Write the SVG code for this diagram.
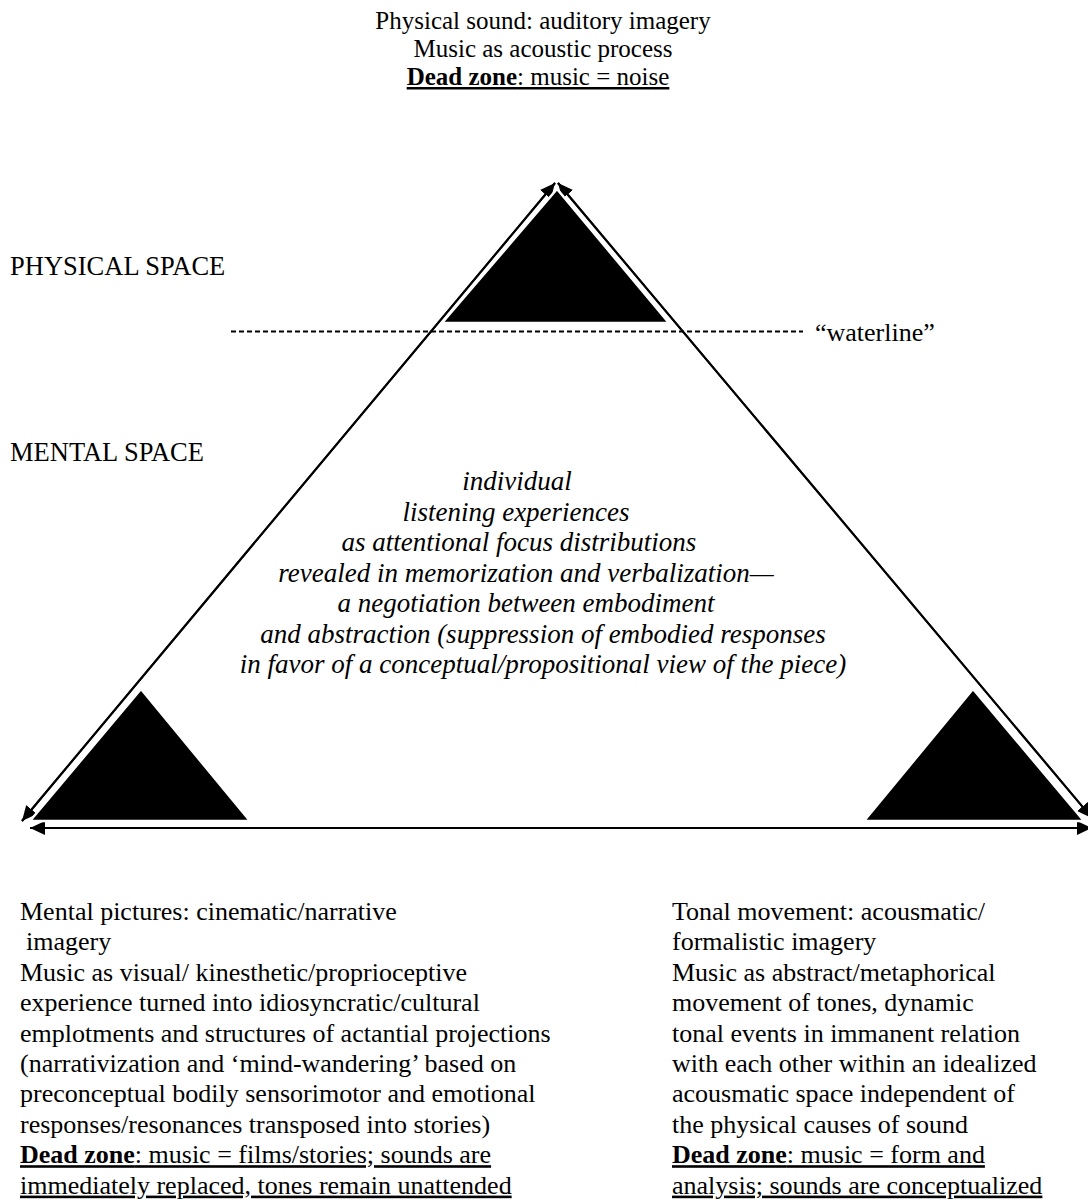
<svg xmlns="http://www.w3.org/2000/svg" width="1088" height="1203" viewBox="0 0 1088 1203">
<style>
text{font-family:"Liberation Serif","Times New Roman",serif;font-size:26px;fill:#000}
.c{text-anchor:middle}
.i{font-style:italic;font-size:27px}
.u{text-decoration:underline}
.b{font-weight:bold}
.sp{font-size:26.5px}
.t{font-size:25px}
.ln{stroke:#000;stroke-width:2;fill:none}
.tri{fill:#000;stroke:#fff;stroke-width:2.5;stroke-miterlimit:10}
</style>
<defs>
<marker id="ah" markerUnits="userSpaceOnUse" markerWidth="16" markerHeight="16" refX="15" refY="7" orient="auto" viewBox="0 0 16 14">
<path d="M0,0 L15,7 L0,14 z" fill="#000"/>
</marker>
<marker id="ahs" markerUnits="userSpaceOnUse" markerWidth="16" markerHeight="16" refX="1" refY="7" orient="auto" viewBox="0 0 16 14">
<path d="M16,0 L1,7 L16,14 z" fill="#000"/>
</marker>
</defs>
<g id="connectors">
<line class="ln" x1="22" y1="821" x2="555" y2="183" marker-end="url(#ah)"/>
<line class="ln" x1="555" y1="183" x2="22" y2="821" marker-end="url(#ah)"/>
<line class="ln" x1="1092" y1="818" x2="558" y2="183" marker-end="url(#ah)"/>
<line class="ln" x1="558" y1="183" x2="1092" y2="818" marker-end="url(#ah)"/>
<line class="ln" x1="30" y1="828" x2="1092" y2="828" marker-start="url(#ahs)" marker-end="url(#ah)"/>
<line x1="231" y1="331.5" x2="803" y2="331.5" stroke="#000" stroke-width="2" stroke-dasharray="5 3"/>
</g>
<g id="node-top">
<polygon class="tri" points="557,189 442,323 669,323"/>
</g>
<g id="node-left">
<polygon class="tri" points="141,689 30,821 250,821"/>
</g>
<g id="node-right">
<polygon class="tri" points="973,689 864,821 1084,821"/>
</g>
<g id="label-top">
<text class="c t" x="543" y="29">Physical sound: auditory imagery</text>
<text class="c t" x="543" y="57">Music as acoustic process</text>
<text class="c t u" x="538" y="85"><tspan class="b">Dead zone</tspan>: music = noise</text>
</g>
<g id="label-spaces">
<text class="sp" x="10" y="275">PHYSICAL SPACE</text>
<text x="815" y="341">“waterline”</text>
<text class="sp" x="10" y="461">MENTAL SPACE</text>
</g>
<g id="label-center">
<text class="c i" x="517" y="490">individual</text>
<text class="c i" x="516" y="520.5">listening experiences</text>
<text class="c i" x="519" y="551">as attentional focus distributions</text>
<text class="c i" x="526" y="581.5">revealed in memorization and verbalization—</text>
<text class="c i" x="526" y="612">a negotiation between embodiment</text>
<text class="c i" x="543" y="642.5">and abstraction (suppression of embodied responses</text>
<text class="c i" x="543" y="673">in favor of a conceptual/propositional view of the piece)</text>
</g>
<g id="label-left">
<text x="20" y="920">Mental pictures: cinematic/narrative</text>
<text x="26" y="950.4">imagery</text>
<text x="20" y="980.8">Music as visual/ kinesthetic/proprioceptive</text>
<text x="20" y="1011.2">experience turned into idiosyncratic/cultural</text>
<text x="20" y="1041.6">emplotments and structures of actantial projections</text>
<text x="20" y="1072">(narrativization and ‘mind-wandering’ based on</text>
<text x="20" y="1102.4">preconceptual bodily sensorimotor and emotional</text>
<text x="20" y="1132.8">responses/resonances transposed into stories)</text>
<text class="u" x="20" y="1163.2"><tspan class="b">Dead zone</tspan>: music = films/stories; sounds are</text>
<text class="u" x="20" y="1193.6">immediately replaced, tones remain unattended</text>
</g>
<g id="label-right">
<text x="672" y="920">Tonal movement: acousmatic/</text>
<text x="672" y="950.4">formalistic imagery</text>
<text x="672" y="980.8">Music as abstract/metaphorical</text>
<text x="672" y="1011.2">movement of tones, dynamic</text>
<text x="672" y="1041.6">tonal events in immanent relation</text>
<text x="672" y="1072">with each other within an idealized</text>
<text x="672" y="1102.4">acousmatic space independent of</text>
<text x="672" y="1132.8">the physical causes of sound</text>
<text class="u" x="672" y="1163.2"><tspan class="b">Dead zone</tspan>: music = form and</text>
<text class="u" x="672" y="1193.6">analysis; sounds are conceptualized</text>
</g>
</svg>
